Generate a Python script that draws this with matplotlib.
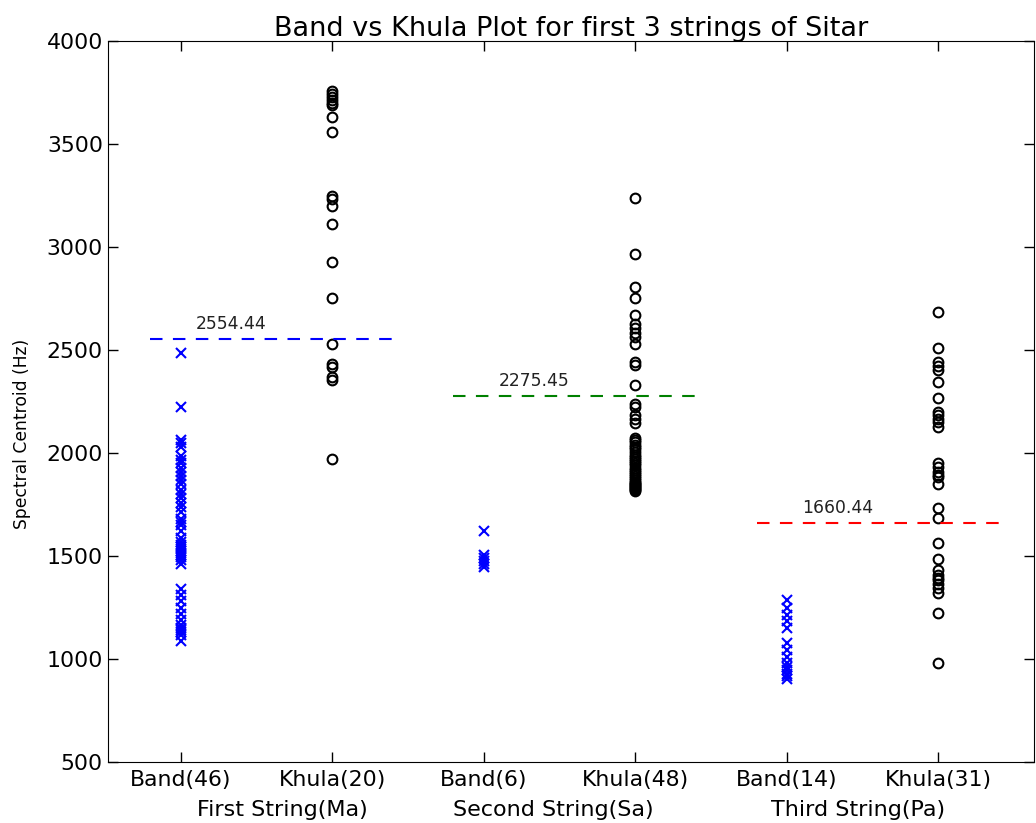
import numpy as np
import matplotlib
matplotlib.use('Agg')
import matplotlib.pyplot as plt

# spectral centroid values (Hz)
band_ma = [2484, 2225, 2065, 2050, 2030, 1985, 1965, 1950, 1930, 1910, 1890, 1870,
           1850, 1820, 1800, 1780, 1760, 1740, 1715, 1680, 1665, 1650, 1620, 1590,
           1570, 1555, 1545, 1535, 1525, 1515, 1505, 1495, 1480, 1460, 1340, 1310,
           1280, 1250, 1220, 1190, 1165, 1150, 1140, 1130, 1115, 1090]
khula_ma = [3760, 3745, 3730, 3715, 3700, 3690, 3630, 3560, 3250, 3235, 3200, 3110,
            2930, 2755, 2530, 2435, 2420, 2370, 2355, 1970]
band_sa = [1622, 1505, 1490, 1475, 1460, 1448]
khula_sa = [3240, 2965, 2805, 2755, 2670, 2625, 2605, 2585, 2565, 2530, 2440, 2430,
            2330, 2240, 2225, 2185, 2165, 2145, 2075, 2065, 2055, 2040, 2030, 2020,
            2005, 1990, 1980, 1970, 1960, 1950, 1940, 1930, 1920, 1910, 1900, 1890,
            1880, 1870, 1860, 1855, 1850, 1845, 1840, 1835, 1830, 1825, 1820, 1815]
band_pa = [1285, 1250, 1215, 1185, 1150, 1080, 1045, 1010, 980, 960, 945, 930, 920, 905]
khula_pa = [2683, 2511, 2443, 2422, 2403, 2346, 2270, 2200, 2184, 2168, 2152, 2128,
            1953, 1933, 1909, 1895, 1885, 1849, 1734, 1683, 1562, 1484, 1432, 1408,
            1395, 1383, 1367, 1343, 1319, 1225, 979]

thresholds = [2554.44, 2275.45, 1660.44]
thr_colors = ['#0000ff', '#008000', '#ff0000']
strings = ['First String(Ma)', 'Second String(Sa)', 'Third String(Pa)']
band_sets = [band_ma, band_sa, band_pa]
khula_sets = [khula_ma, khula_sa, khula_pa]

fig = plt.figure(figsize=(10.36, 8.23), dpi=100)
ax = fig.add_axes([0.104, 0.074, 0.894, 0.876])

ticks = []
labels = []
for i in range(3):
    xb = 2 * i + 1
    xk = 2 * i + 2
    ax.plot([xb] * len(band_sets[i]), band_sets[i], 'x', color='#0000ff',
            markersize=7, mew=1.5)
    ax.plot([xk] * len(khula_sets[i]), khula_sets[i], 'o', mfc='none', mec='black',
            markersize=7, mew=1.5)
    ax.plot([xb - 0.2, xk + 0.4], [thresholds[i], thresholds[i]], color=thr_colors[i],
            linewidth=1.5, dashes=(6, 5))
    ax.text(xb + 0.1, thresholds[i] + 30, '%.2f' % thresholds[i], fontsize=12.3,
            va='bottom', color='#222222')
    ticks += [xb, xk]
    labels += ['Band(%d)' % len(band_sets[i]), 'Khula(%d)' % len(khula_sets[i])]

group_x = [1.67, 3.46, 5.47]
for gx, s in zip(group_x, strings):
    ax.text(gx, -0.066, s, fontsize=16, ha='center', va='center',
            transform=ax.get_xaxis_transform())

ax.set_xticks(ticks)
ax.set_xticklabels(labels, fontsize=15.8)
ax.set_yticks(np.arange(500, 4001, 500))
ax.tick_params(axis='y', labelsize=15.8)
ax.tick_params(direction='in', top=True, right=True, length=7, width=1)
ax.tick_params(axis='x', pad=6)
ax.set_xlim(0.52, 6.63)
ax.set_ylim(500, 4000)
ax.set_ylabel('Spectral Centroid (Hz)', fontsize=12.3)
ax.yaxis.set_label_coords(-0.083, 0.455)
ax.set_title('Band vs Khula Plot for first 3 strings of Sitar', fontsize=19.5, pad=4)

plt.savefig('out.png', dpi=100)
